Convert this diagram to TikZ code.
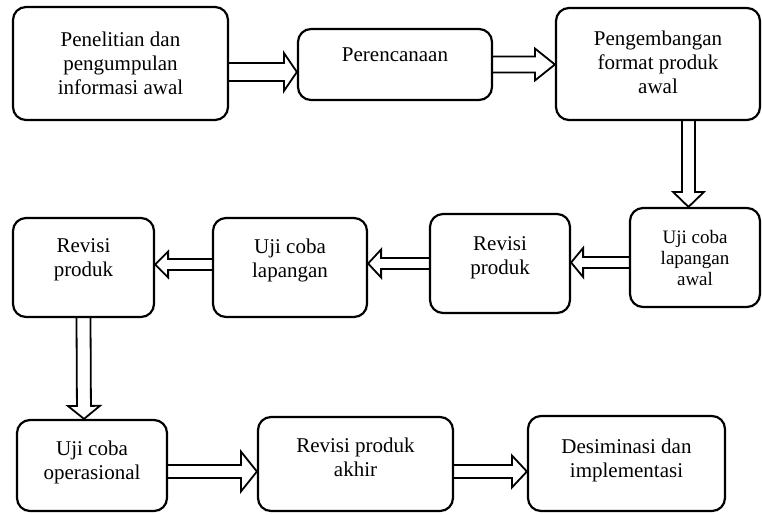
\documentclass[tikz,border=0pt]{standalone}
\usepackage{fontspec}
\setmainfont{Liberation Serif}
\usetikzlibrary{calc}

\tikzset{
  tahap/.style={draw, line width=2.2pt, rounded corners=13pt, align=center,
    font=\fontsize{21}{24}\selectfont},
  % hollow block arrow: shaft half width, head half width, head length
  panah/.style n args={3}{line width=1.8pt, line join=miter, to path={
    let \p1=($(\tikztotarget)-(\tikztostart)$), \n1={atan2(\y1,\x1)}, \n2={veclen(\x1,\y1)} in
    [shift={(\tikztostart)}, rotate=\n1]
    (0,#1) -- ({\n2-#3},#1) -- ({\n2-#3},#2) -- (\n2,0)
      -- ({\n2-#3},-#2) -- ({\n2-#3},-#1) -- (0,-#1)}}
}

\begin{document}
\begin{tikzpicture}[x=1pt,y=-1pt]
      \useasboundingbox (0,0) rectangle (762,514);
      \draw
        (120.5,63.5) node[tahap,minimum width=215pt,minimum height=113pt] (0){Penelitian dan\\pengumpulan\\informasi awal}
        (395,64.5) node[tahap,minimum width=194pt,minimum height=71pt,text depth=19pt] (1){Perencanaan}
        (658,64) node[tahap,minimum width=204pt,minimum height=112pt,text depth=4pt] (2){Pengembangan\\format produk\\awal}
        (695,257.5) node[tahap,minimum width=130pt,minimum height=99pt,font=\fontsize{19}{21}\selectfont] (3){Uji coba\\lapangan\\awal}
        (500,263.5) node[tahap,minimum width=140pt,minimum height=99pt,text depth=15.5pt] (4){Revisi\\produk}
        (290,267.5) node[tahap,minimum width=154pt,minimum height=99pt,text depth=18.5pt] (5){Uji coba\\lapangan}
        (83.5,267.5) node[tahap,minimum width=141pt,minimum height=99pt,text depth=20pt] (6){Revisi\\produk}
        (92,465.5) node[tahap,minimum width=150pt,minimum height=91pt,text depth=11.5pt] (7){Uji coba\\operasional}
        (355.5,464) node[tahap,minimum width=195pt,minimum height=94pt,text depth=13pt] (8){Revisi produk\\akhir}
        (626.5,463.5) node[tahap,minimum width=197pt,minimum height=95pt,text depth=11.5pt] (9){Desiminasi dan\\implementasi};
      \begin{scope}
        \draw[panah={9}{19}{13}] ([yshift=-8.5pt]0.east) to ([yshift=-7.5pt]1.west);
        \draw[panah={8}{16}{20}] (1.east) to ([yshift=-0.5pt]2.west);
        \draw[panah={6.5}{15.5}{15}] ([xshift=30.5pt]2.south) to ([xshift=-6.5pt]3.north);
        \draw[panah={5.5}{14.5}{12}] ([yshift=-5pt]3.west) to ([yshift=1pt]4.east);
        \draw[panah={5.5}{14}{13}] (4.west) to ([yshift=4pt]5.east);
        \draw[panah={5.5}{13}{13}] ([yshift=3pt]5.west) to ([yshift=3pt]6.east);
        \draw[panah={7}{16}{13}] (6.south) to ([xshift=-8pt]7.north);
        \draw[panah={6.5}{20}{16}] ([yshift=-6pt]7.east) to ([yshift=-7.5pt]8.west);
        \draw[panah={6.5}{16}{15}] ([yshift=-7.5pt]8.east) to ([yshift=-8pt]9.west);
      \end{scope}
    \end{tikzpicture}
\end{document}
